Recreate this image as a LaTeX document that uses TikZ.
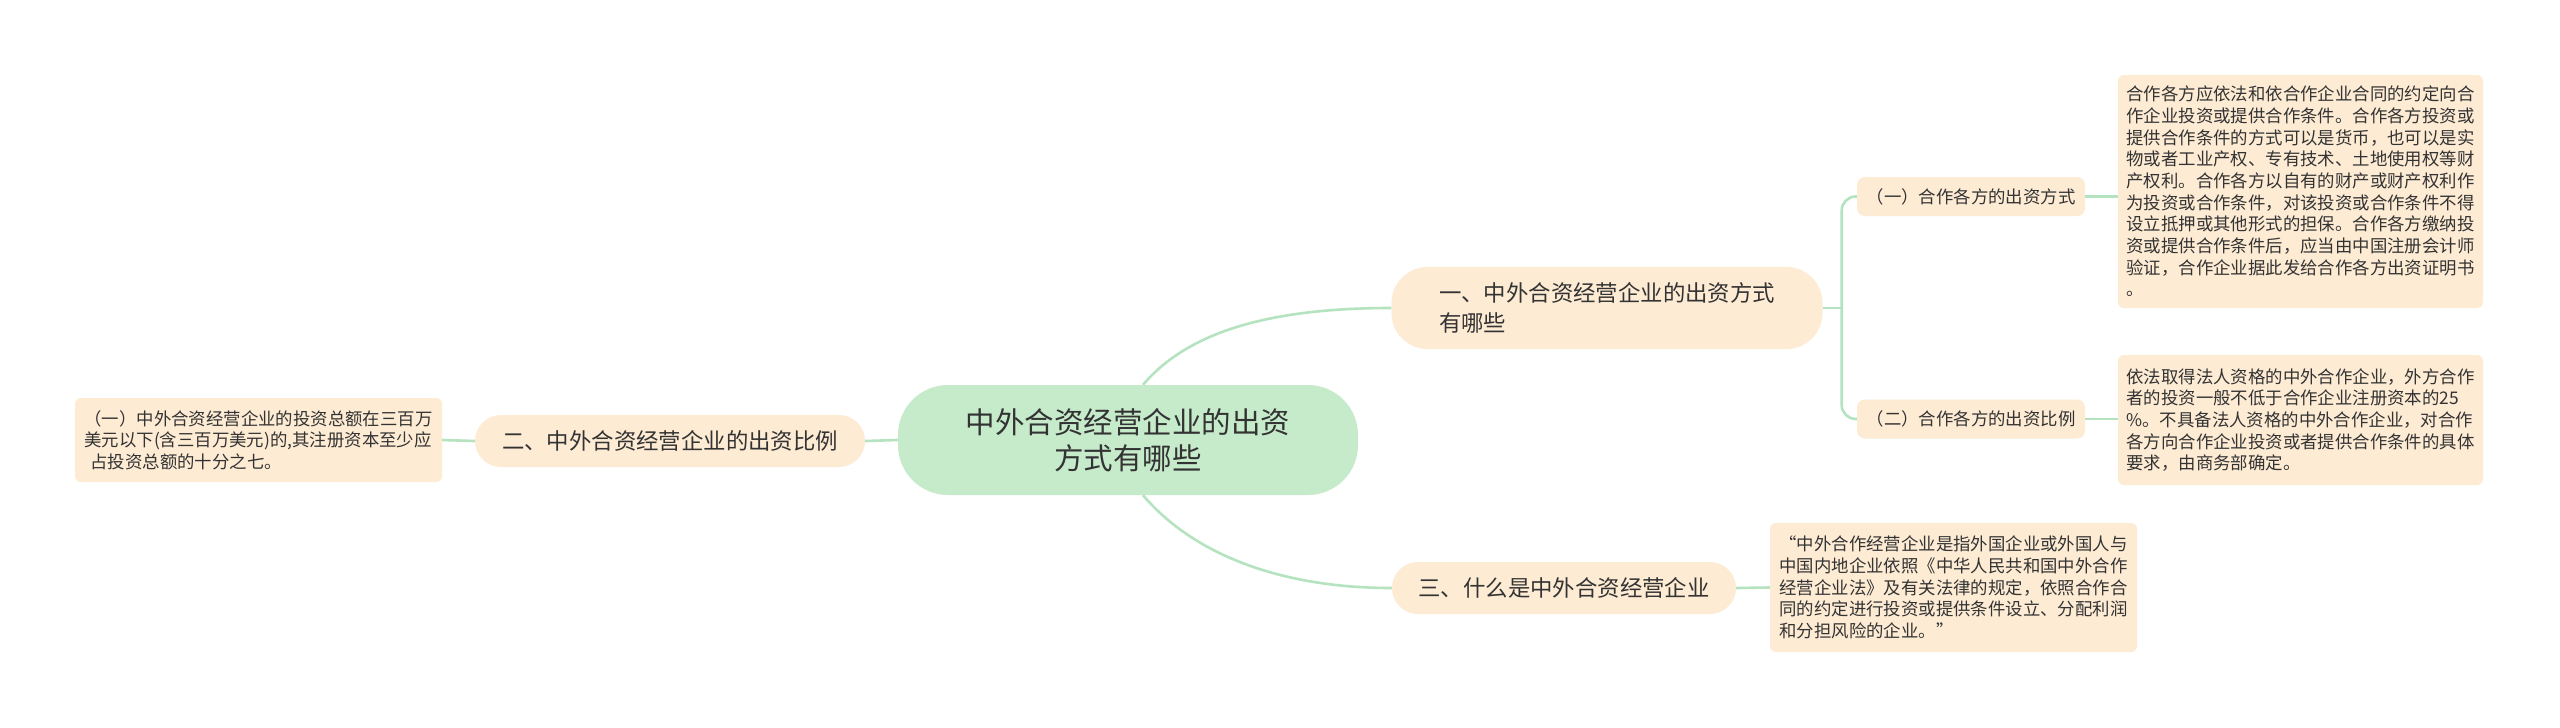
\documentclass[tikz,border=0pt]{standalone}
\usepackage{fontspec}
\setmainfont{Noto Sans CJK SC}
\definecolor{rootfill}{HTML}{C6EBCB}
\definecolor{nodefill}{HTML}{FDEBD4}
\definecolor{linecol}{HTML}{B5E3C0}
\definecolor{txt}{HTML}{333333}
\begin{document}
\begin{tikzpicture}[x=1pt,y=-1pt,
  rootbox/.style={fill=rootfill, rounded corners=50pt, minimum width=460pt, minimum height=110pt, inner sep=0pt, align=center, text=txt, font=\fontsize{29.5}{36}\selectfont},
  branchbox/.style={fill=nodefill, inner sep=0pt, text=txt, align=left, font=\fontsize{22.4}{30}\selectfont},
  subbox/.style={fill=nodefill, rounded corners=8pt, inner sep=0pt, text=txt, minimum width=228pt, minimum height=39pt, font=\fontsize{17.4}{21.67}\selectfont},
  leafbox/.style={fill=nodefill, rounded corners=6pt, inner sep=0pt, text=txt, align=left, font=\fontsize{17.4}{21.67}\selectfont},
  conn/.style={draw=linecol, line width=2.6pt}
]
\useasboundingbox (0,0) rectangle (2560,728);
\fill[white] (0,0) rectangle (2560,728);

% nodes
\node[rootbox] (root) at (1128,440) {中外合资经营企业的出资\\方式有哪些};
\node[branchbox, rounded corners=36pt, minimum width=431pt, minimum height=82pt] (n1) at (1607,308) {一、中外合资经营企业的出资方式\\有哪些};
\node[branchbox, rounded corners=26pt, minimum width=390pt, minimum height=52pt] (n2) at (670,441) {二、中外合资经营企业的出资比例};
\node[branchbox, rounded corners=26pt, minimum width=344pt, minimum height=52pt] (n3) at (1564,588) {三、什么是中外合资经营企业};
\node[subbox] (s1) at (1971,196.5) {（一）合作各方的出资方式};
\node[subbox] (s2) at (1971,419) {（二）合作各方的出资比例};
\node[leafbox, minimum width=365pt, minimum height=233pt] (l1) at (2300.5,191.5) {合作各方应依法和依合作企业合同的约定向合\\作企业投资或提供合作条件。合作各方投资或\\提供合作条件的方式可以是货币，也可以是实\\物或者工业产权、专有技术、土地使用权等财\\产权利。合作各方以自有的财产或财产权利作\\为投资或合作条件，对该投资或合作条件不得\\设立抵押或其他形式的担保。合作各方缴纳投\\资或提供合作条件后，应当由中国注册会计师\\验证，合作企业据此发给合作各方出资证明书\\。};
\node[leafbox, minimum width=365pt, minimum height=130pt] (l2) at (2300.5,420) {依法取得法人资格的中外合作企业，外方合作\\者的投资一般不低于合作企业注册资本的25\\\%。不具备法人资格的中外合作企业，对合作\\各方向合作企业投资或者提供合作条件的具体\\要求，由商务部确定。};
\node[leafbox, minimum width=367pt, minimum height=129pt] (l3) at (1953.5,587.5) {“中外合作经营企业是指外国企业或外国人与\\中国内地企业依照《中华人民共和国中外合作\\经营企业法》及有关法律的规定，依照合作合\\同的约定进行投资或提供条件设立、分配利润\\和分担风险的企业。”};
\node[leafbox, minimum width=367pt, minimum height=84pt] (ll) at (258.5,440) {（一）中外合资经营企业的投资总额在三百万\\美元以下(含三百万美元)的,其注册资本至少应\\\hspace*{6pt}占投资总额的十分之七。};

% connectors
\draw[conn] ([xshift=15pt]root.north) .. controls +(45,-53) and +(-122,0) .. (n1.west);
\draw[conn] ([xshift=15pt]root.south) .. controls +(45,53) and +(-122,0) .. (n3.west);
\draw[conn] (root.west) -- (n2.east);
\draw[conn] (n2.west) -- (ll.east);
\draw[conn] (n3.east) -- (l3.west);
\draw[conn] (n1.east) -- ++(19,0) coordinate (bk);
\draw[conn, rounded corners=14pt] (bk) |- (s1.west);
\draw[conn, rounded corners=14pt] (bk) |- (s2.west);
\draw[conn] (s1.east) -- (s1.east -| l1.west);
\draw[conn] (s2.east) -- (s2.east -| l2.west);
\end{tikzpicture}
\end{document}
